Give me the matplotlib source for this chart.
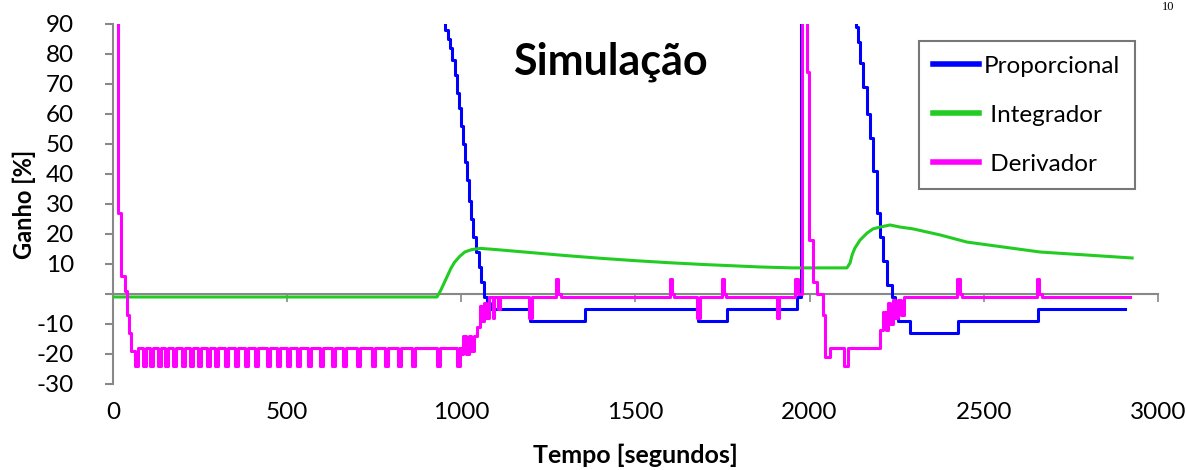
import matplotlib
matplotlib.use('Agg')
import matplotlib.pyplot as plt

plt.rcParams['font.family'] = ['Lato', 'DejaVu Sans']

# Proporcional (blue), step series, values above 90 are off the chart
blue_t = [0, 953, 962, 968, 973, 982, 988, 993, 999, 1005,
          1011, 1016, 1022, 1028, 1034, 1042, 1051, 1057, 1065, 1074,
          1082, 1197, 1355, 1680, 1763, 1964, 1975,
          2133, 2139, 2145, 2153, 2165, 2173, 2182, 2193, 2202, 2211,
          2222, 2237, 2245, 2254, 2288, 2426, 2656, 2906]
blue_v = [120, 88, 85, 82, 78, 73, 67, 62, 56, 50,
          44, 38, 31, 25, 19, 14, 9, 4, -1, -3,
          -5, -9, -5, -9, -5, -1, 120,
          89, 84, 77, 69, 60, 52, 41, 27, 19, 11,
          3, -1, -5, -9, -13, -9, -5, -5]

# Integrador (green)
green_t = [0, 930, 940, 950, 960, 970, 980, 995, 1010, 1030,
           1055, 1100, 1200, 1300, 1400, 1500, 1600, 1700, 1800, 1858,
           1950, 2107, 2116, 2122, 2130, 2145, 2165, 2182, 2202, 2231,
           2260, 2297, 2374, 2452, 2661, 2926]
green_v = [-1, -1, 1, 3.5, 6, 8.5, 10.5, 12.5, 14, 14.8,
           15.2, 14.8, 13.8, 12.8, 11.9, 11.1, 10.4, 9.8, 9.3, 9.0,
           8.7, 8.7, 10.3, 13, 15.3, 18, 20.3, 21.7, 22.3, 23,
           22.3, 21.7, 19.7, 17.3, 14, 12]

# Derivador (magenta): start, saw-tooth section, rest
pink_t_start = [0, 14, 24, 33, 40, 46, 52]
pink_v_start = [150, 27, 6, 1, -7, -13, -19]
tooth_starts = [63, 86, 106, 129, 149, 172, 198, 221, 244, 270,
                293, 322, 350, 379, 408, 442, 471, 500, 528, 560,
                594, 629, 660, 701, 744, 781, 818, 858, 930, 988]
tooth_ends = [72, 95, 115, 138, 158, 181, 207, 230, 253, 279,
              302, 331, 359, 388, 417, 451, 480, 509, 537, 569,
              603, 638, 669, 710, 753, 790, 827, 867, 939, 997]
tooth_low = -24
tooth_high = -18
pink_t_end = [997, 1005, 1013, 1021, 1029, 1037, 1045, 1054, 1060, 1066,
              1072, 1080, 1090, 1095, 1105, 1110, 1195, 1204, 1272, 1278,
              1285, 1598, 1604, 1611, 1678, 1686, 1748, 1754, 1761, 1905,
              1913, 1958, 1966, 1978, 1993, 1998, 2010, 2021, 2038, 2045,
              2058, 2100, 2110, 2202, 2210, 2218, 2226, 2232, 2240, 2246,
              2255, 2262, 2270, 2424, 2431, 2438, 2653, 2660, 2667, 2920]
pink_v_end = [-20, -14, -20, -14, -19, -14, -11, -4, -9, -3,
              -8, -1, -8, -1, -5, -1, -8, -1, 5, 0,
              -1, 5, 0, -1, -8, -1, 5, 0, -1, -8,
              -1, 5, 0, 150, 74, 18, 4, 0, -7, -21,
              -18, -24, -18, -12, -6, -12, -3, -10, -2, -8,
              -2, -7, -1, 5, 0, -1, 5, 0, -1, -1]

pink_t = list(pink_t_start)
pink_v = list(pink_v_start)
for s, e in zip(tooth_starts, tooth_ends):
    pink_t += [s, e]
    pink_v += [tooth_low, tooth_high]
pink_t += pink_t_end
pink_v += pink_v_end

x_ticks = [0, 500, 1000, 1500, 2000, 2500, 3000]
y_ticks = [-30, -20, -10, 0, 10, 20, 30, 40, 50, 60, 70, 80, 90]
y_labels = ['' if v == 0 else str(v) for v in y_ticks]

fig = plt.figure(figsize=(11.86, 4.70), dpi=100)
ax = fig.add_axes([0.0953, 0.183, 0.881, 0.766])

ax.step(blue_t, blue_v, where='post', color='#0000FF', lw=2.2,
        label='Proporcional', zorder=3)
ax.plot(green_t, green_v, color='#22CC22', lw=2.2,
        label=' Integrador', zorder=3)
ax.step(pink_t, pink_v, where='post', color='#FF00FF', lw=2.2,
        label=' Derivador', zorder=3)

ax.set_xlim(0, 3000)
ax.set_ylim(-30, 90)

ax.spines['top'].set_visible(False)
ax.spines['right'].set_visible(False)
ax.spines['left'].set_color('#888888')
ax.spines['left'].set_linewidth(1.5)
ax.spines['bottom'].set_position(('data', 0))
ax.spines['bottom'].set_color('#888888')
ax.spines['bottom'].set_linewidth(1.5)

ax.set_yticks(y_ticks)
ax.set_yticklabels(y_labels)
ax.tick_params(axis='y', direction='out', length=6, width=1.5,
               color='#888888', pad=22, labelsize=17.5)
ax.set_xticks(x_ticks)
ax.tick_params(axis='x', direction='out', length=6, width=1.2,
               color='#888888', labelbottom=False)

sec = ax.secondary_xaxis(0)
sec.set_xticks(x_ticks)
sec.tick_params(length=0, pad=13, labelsize=17.5)
sec.spines['bottom'].set_visible(False)

ax.text(0.476, 0.894, 'Simulação', transform=ax.transAxes,
        ha='center', va='center', fontsize=31, fontweight='bold')
ax.set_ylabel('Ganho [%]', fontsize=17, fontweight='bold')
ax.yaxis.set_label_coords(-0.074, 0.5)
ax.text(0.5, -0.197, 'Tempo [segundos]', transform=ax.transAxes,
        ha='center', va='center', fontsize=18, fontweight='bold')

leg = ax.legend(loc='upper left', bbox_to_anchor=(0.771, 0.952), fontsize=17.5,
                frameon=True, fancybox=False, edgecolor='#555555',
                handlelength=1.9, labelspacing=1.15, borderpad=0.6,
                handletextpad=0.2, borderaxespad=0)
leg.get_frame().set_linewidth(1.5)
for line in leg.get_lines():
    line.set_linewidth(4)

fig.text(0.985, 0.998, '10', ha='center', va='top', fontsize=9,
         family='Liberation Serif')

fig.savefig('out.png', dpi=100)
